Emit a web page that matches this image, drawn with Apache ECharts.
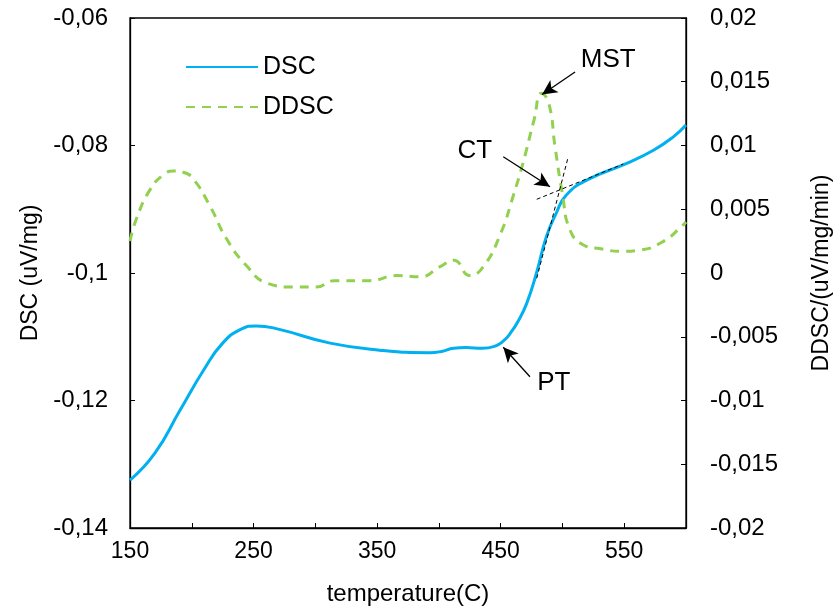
<!DOCTYPE html>
<html>
<head>
<meta charset="utf-8">
<style>html,body{margin:0;padding:0;background:#fff}#c{width:838px;height:610px}</style>
<script src="https://cdn.jsdelivr.net/npm/echarts@6/dist/echarts.min.js"></script>
</head>
<body>
<div id="c"></div>
<script>
var dscTemp = [150,170,190,210,225,240,252,270,312,352,393,402,412,422,435,445,452,458,464,471,479,487,495,503,520,552,574,590,600];
var dscVal  = [-0.1325,-0.1283,-0.1217,-0.1151,-0.1110,-0.1088,-0.1083,-0.1088,-0.1110,-0.1121,-0.1125,-0.1123,-0.1118,-0.1117,-0.1118,-0.1115,-0.1107,-0.1094,-0.1076,-0.1048,-0.1000,-0.0943,-0.0906,-0.0878,-0.0854,-0.0828,-0.0807,-0.0786,-0.0768];
var ddscTemp = [150,155,166,177,185,193,201,215,228,244,261,282,301,315,344,366,385,401,412,425,436,450,460,468,477,483,489,494,500,506,517,531,547,563,582,598,600];
var ddscVal  = [0.0025,0.0042,0.0065,0.0077,0.0080,0.0079,0.0074,0.0052,0.0027,0.0006,-0.0008,-0.0011,-0.0011,-0.0006,-0.0006,-0.0002,-0.0003,0.0005,0.0010,-0.0002,0.0005,0.0031,0.0060,0.0086,0.0120,0.0141,0.0133,0.0099,0.0062,0.0034,0.0022,0.0019,0.0017,0.0018,0.0025,0.0038,0.0040];
var xTicks = [150,250,350,450,550];
var seriesNames = ['DSC','DDSC'];
var annotationNames = ['MST','CT','PT'];

function zip(a,b){return a.map(function(v,i){return [v,b[i]];});}
function fmt(v){return Number(v.toFixed(4)).toString().replace('.',',');}
var F = 'Liberation Sans, Arial, sans-serif';
var chart = echarts.init(document.getElementById('c'), null, {renderer:'canvas'});
var arrowStyle = {color:'#000', width:1.3, type:'solid'};
var tanStyle = {color:'#000', width:1, type:[4,3]};
function arrow(a,b){return [{coord:a,symbol:'none',lineStyle:arrowStyle},{coord:b,symbol:'arrow',symbolSize:[11,15]}];}
function tangent(a,b){return [{coord:a,symbol:'none',lineStyle:tanStyle},{coord:b,symbol:'none'}];}
chart.setOption({
  animation:false,
  grid:{left:130,right:152,top:18,bottom:82,containLabel:false,outerBoundsMode:'none',show:true,borderColor:'#000',borderWidth:1.3},
  legend:{orient:'vertical',left:180,top:49,itemWidth:72,itemHeight:14,itemGap:14,
    itemStyle:{opacity:0},
    textStyle:{fontFamily:F,fontSize:25,color:'#000',lineHeight:26},
    data:seriesNames},
  xAxis:{type:'value',min:150,max:600,interval:50,name:'temperature(C)',nameLocation:'middle',nameGap:54,
    nameTextStyle:{fontFamily:F,fontSize:24,color:'#000'},
    axisLine:{onZero:false,lineStyle:{color:'#000',width:1.3}},axisTick:{inside:true,length:5,lineStyle:{color:'#000'}},
    splitLine:{show:false},
    axisLabel:{fontFamily:F,fontSize:23,color:'#000',margin:12,
      formatter:function(v){return xTicks.indexOf(v)>=0?String(v):'';}}},
  yAxis:[
    {type:'value',min:-0.14,max:-0.06,interval:0.02,name:'DSC (uV/mg)',nameLocation:'middle',nameGap:87,
      nameTextStyle:{fontFamily:F,fontSize:23,color:'#000'},
      axisLine:{show:true,onZero:false,lineStyle:{color:'#000',width:1.3}},axisTick:{show:true,inside:true,length:5,lineStyle:{color:'#000'}},
      splitLine:{show:false},axisLabel:{fontFamily:F,fontSize:24,color:'#000',margin:22,formatter:fmt}},
    {type:'value',min:-0.02,max:0.02,interval:0.005,position:'right',name:'DDSC/(uV/mg/min)',nameLocation:'middle',nameGap:124,nameRotate:90,
      nameTextStyle:{fontFamily:F,fontSize:23,color:'#000'},
      axisLine:{show:true,onZero:false,lineStyle:{color:'#000',width:1.3}},axisTick:{show:true,inside:true,length:5,lineStyle:{color:'#000'}},
      splitLine:{show:false},axisLabel:{fontFamily:F,fontSize:24,color:'#000',margin:24,formatter:fmt}}
  ],
  series:[
    {name:seriesNames[0],type:'line',yAxisIndex:0,data:zip(dscTemp,dscVal),smooth:0.5,symbol:'none',
      lineStyle:{color:'#00B0F0',width:3},itemStyle:{color:'#00B0F0'},
      markLine:{silent:true,label:{show:false},
        data:[
          tangent([479.2,-0.08844],[549.2,-0.0829]),
          tangent([479.2,-0.10083],[504.7,-0.08176]),
          arrow([452.1,-0.08176],[489.9,-0.08646]),
          arrow([473.7,-0.11627],[452.1,-0.11165])
        ]},
      markPoint:{silent:true,symbol:'circle',symbolSize:0,
        label:{show:true,position:'inside',fontFamily:F,fontSize:26,color:'#000',formatter:'{b}'},
        data:[
          {name:annotationNames[0],coord:[537,-0.06659]},
          {name:annotationNames[1],coord:[429,-0.08086]},
          {name:annotationNames[2],coord:[493,-0.11725]}
        ]}
    },
    {name:seriesNames[1],type:'line',yAxisIndex:1,data:zip(ddscTemp,ddscVal),smooth:0.5,symbol:'none',
      lineStyle:{color:'#92D050',width:3,type:[9,7]},itemStyle:{color:'#92D050'},
      markLine:{silent:true,label:{show:false},
        data:[arrow([510.2,0.01576],[483.5,0.0140])]}
    }
  ]
});
</script>
</body>
</html>
